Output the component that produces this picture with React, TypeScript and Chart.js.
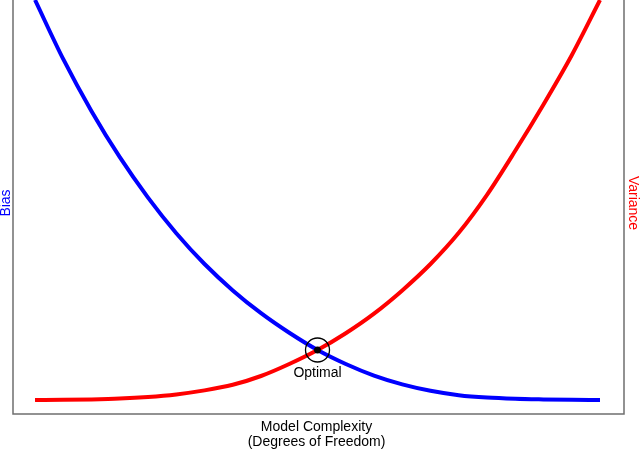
import { useEffect, useRef } from 'react';
import { Chart, registerables } from 'chart.js';

Chart.register(...registerables);

// Degrees of freedom (x positions)
const dof = [0, 1, 2, 3, 4, 5, 6, 7, 8, 9, 10, 11, 12, 13, 14, 15, 16, 17, 18, 19, 20];
// Bias (decreasing with complexity)
const bias = [100, 85.2, 72.2, 60.7, 50.6, 41.7, 34.0, 27.4, 21.7, 16.8, 12.5, 9.0, 6.1, 3.9, 2.3, 1.2, 0.6, 0.3, 0.15, 0.05, 0];
// Variance (increasing with complexity)
const variance = [0, 0.05, 0.15, 0.35, 0.75, 1.4, 2.4, 3.8, 6.0, 9.0, 12.5, 16.7, 21.6, 27.4, 34.0, 41.8, 51.3, 62.3, 73.9, 86.2, 100];
// Optimal point
const optimalX = [10];
const optimalY = [12.5];

const xLabelLines = ['Model Complexity', '(Degrees of Freedom)'];
const leftLabel = 'Bias';
const rightLabel = 'Variance';
const optimalLabel = 'Optimal';

const FONT = '"Liberation Sans", Arial, sans-serif';

export default function App() {
  const ref = useRef<HTMLCanvasElement | null>(null);

  useEffect(() => {
    document.body.style.margin = '0';
    const canvas = ref.current;
    if (!canvas) return;

    const decor = {
      id: 'decor',
      beforeDatasetsDraw(chart: any) {
        const { ctx, chartArea } = chart;
        const { left, right, bottom, top } = chartArea;
        ctx.save();
        ctx.strokeStyle = '#6f6f6f';
        ctx.lineWidth = 1.5;
        ctx.beginPath();
        ctx.moveTo(left, top);
        ctx.lineTo(left, bottom);
        ctx.lineTo(right, bottom);
        ctx.lineTo(right, top);
        ctx.stroke();
        ctx.restore();
      },
      afterDraw(chart: any) {
        const { ctx, chartArea, scales } = chart;
        const { left, right, bottom, top } = chartArea;
        const cx = (left + right) / 2;
        ctx.save();
        ctx.font = `14px ${FONT}`;
        ctx.textAlign = 'center';
        ctx.textBaseline = 'middle';
        ctx.fillStyle = '#000';
        ctx.fillText(xLabelLines[0], cx - 2, bottom + 13);
        ctx.fillText(xLabelLines[1], cx - 2, bottom + 28);

        // Optimal label
        const px = scales.x.getPixelForValue(optimalX[0]);
        const py = scales.y.getPixelForValue(optimalY[0]);
        ctx.fillText(optimalLabel, px, py + 23);

        // Bias (left, rotated)
        const midY = (top + bottom) / 2 - 4;
        ctx.save();
        ctx.translate(6.5, midY);
        ctx.rotate(-Math.PI / 2);
        ctx.fillStyle = '#0000ff';
        ctx.fillText(leftLabel, 0, 0);
        ctx.restore();

        // Variance (right, rotated)
        ctx.save();
        ctx.translate(633, midY);
        ctx.rotate(Math.PI / 2);
        ctx.fillStyle = '#ff0000';
        ctx.fillText(rightLabel, 0, 0);
        ctx.restore();
        ctx.restore();
      },
    };

    const chart = new Chart(canvas, {
      type: 'line',
      data: {
        datasets: [
          {
            data: optimalX.map((x, i) => ({ x, y: optimalY[i] })),
            showLine: false,
            pointRadius: 3.5,
            pointBackgroundColor: '#000',
            pointBorderColor: '#000',
            pointBorderWidth: 0,
            order: 0,
          },
          {
            data: optimalX.map((x, i) => ({ x, y: optimalY[i] })),
            showLine: false,
            pointRadius: 12,
            pointBackgroundColor: 'rgba(0,0,0,0)',
            pointBorderColor: '#000',
            pointBorderWidth: 1.3,
            order: 0,
          },
          {
            data: dof.map((x, i) => ({ x, y: variance[i] })),
            borderColor: '#ff0000',
            borderWidth: 4,
            pointRadius: 0,
            fill: false,
            cubicInterpolationMode: 'monotone',
            order: 1,
          },
          {
            data: dof.map((x, i) => ({ x, y: bias[i] })),
            borderColor: '#0000ff',
            borderWidth: 4,
            pointRadius: 0,
            fill: false,
            cubicInterpolationMode: 'monotone',
            order: 2,
          },
        ],
      },
      options: {
        responsive: false,
        animation: false,
        events: [],
        layout: { autoPadding: false, padding: { left: 13, right: 16, top: 0, bottom: 38 } },
        plugins: { legend: { display: false }, tooltip: { enabled: false } },
        scales: {
          x: { type: 'linear', min: -0.78, max: 20.85, display: false },
          y: { type: 'linear', min: -3.5, max: 100, display: false },
        },
      },
      plugins: [decor],
    } as any);

    return () => chart.destroy();
  }, []);

  return (
    <div style={{ position: 'absolute', left: 0, top: 0, width: 640, height: 452, background: '#fff' }}>
      <canvas ref={ref} width={640} height={452} style={{ display: 'block', width: 640, height: 452 }} />
    </div>
  );
}
